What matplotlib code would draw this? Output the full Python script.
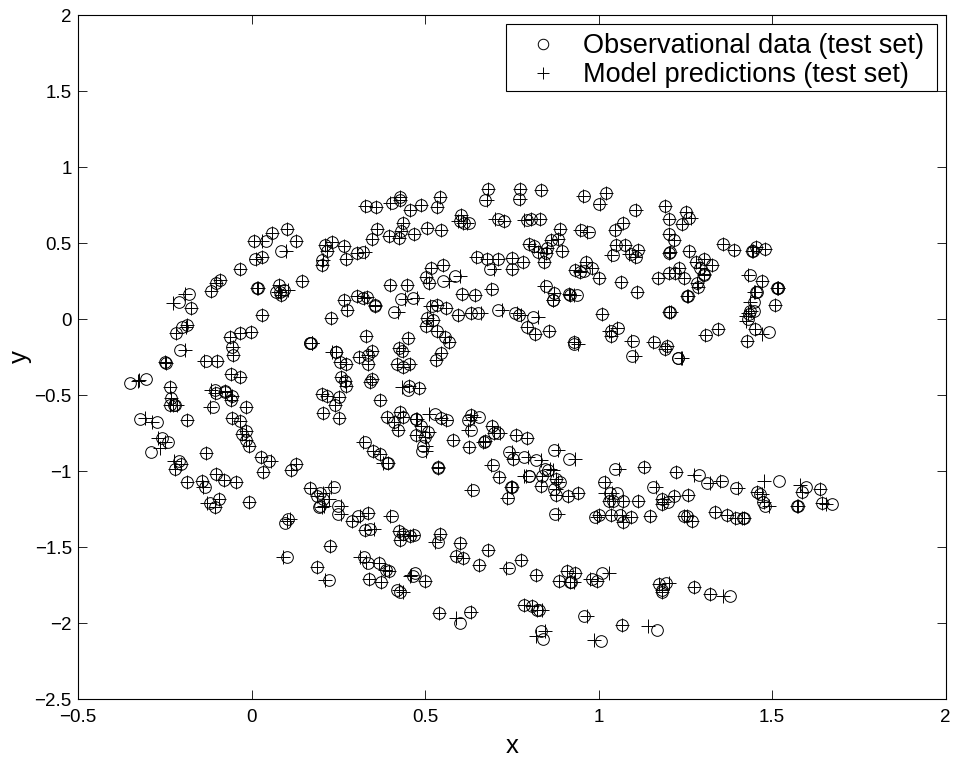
import matplotlib
matplotlib.use("Agg")
import matplotlib.pyplot as plt
from matplotlib.patches import Rectangle

# ---------- values ----------
obs_x = [0.330, 0.360, 0.103, 0.060, 0.007, 0.042, 0.128, 0.086, 0.031, 0.011, -0.034, -0.090, -0.101, -0.116, -0.179, -0.210, -0.173,
         -0.186, -0.200, -0.219, -0.206, -0.249, -0.247, -0.304, -0.349, -0.234, -0.232, -0.236, -0.224, -0.221, -0.322, -0.273, -0.187,
         0.017, 0.018, 0.079, 0.072, 0.083, 0.094, 0.086, 0.145, 0.031, 0.211, 0.233, 0.218, 0.266, 0.203, 0.203, 0.271, 0.304, 0.322, 0.348, 0.362,
         0.303, 0.320, 0.332, 0.355, 0.268, 0.275, 0.229, 0.330, 0.169, 0.170, 0.171, 0.243, 0.244, 0.256, 0.272, 0.311, 0.346, 0.336, 0.335,
         0.259, 0.269, 0.271, 0.346, 0.341, 0.203, 0.217, 0.251, 0.241, 0.205, 0.251,
         -0.001, -0.032, -0.063, -0.056, -0.053, -0.099, -0.131, -0.058, -0.033, -0.106, -0.102, -0.077, -0.075, -0.056, -0.058, -0.110, -0.015, -0.056, -0.032,
         0.682, 0.775, 0.834, 0.957, 0.674, 0.770, 0.542, 0.534, 0.428, 0.428, 0.489, 0.457, 0.404,
         0.438, 0.432, 0.396, 0.425, 0.469, 0.505, 0.547, 0.605, 0.602, 0.611, 0.627, 0.709, 0.729, 0.794, 0.805, 0.832,
         0.888, 0.884, 0.862, 0.951, 0.972, 0.801, 0.813, 0.827, 0.849, 0.853, 0.895, 0.842,
         0.650, 0.678, 0.711, 0.750, 0.783, 0.688, 0.752, 0.552, 0.517, 0.503, 0.511, 0.552, 0.587,
         0.398, 0.448, 0.431, 0.465, 0.357, 0.411, 0.607, 0.645, 0.694, 0.711, 0.594, 0.634, 0.652, 0.561, 0.534, 0.521,
         0.760, 0.772, 0.811, 0.793, 0.818, 0.856, 0.849, 0.871, 0.868, 0.870, 0.916, 0.917, 0.938, 0.964, 0.933, 0.948, 0.957,
         0.507, 0.522, 0.503, 0.534, 0.559, 0.568, 0.450, 0.424, 0.433, 0.546, 0.532, 0.420, 0.455, 0.438, 0.928, 0.930,
         1.022, 1.002, 1.104, 1.193, 1.202, 1.253, 1.260, 1.241, 1.070, 1.047, 1.202, 1.218, 1.051, 1.077, 1.113, 1.094, 1.108, 1.042, 1.204, 1.205, 1.261,
         1.358, 1.390, 1.442, 1.444, 1.454, 1.481, 1.281, 1.305, 1.326, 1.292, 1.303, 1.304, 1.233, 1.204, 1.220, 1.246, 1.171, 1.065, 1.002, 0.982, 1.111,
         1.284, 1.286, 1.256, 1.257, 1.204, 1.205, 1.010, 1.055, 1.036, 1.036, 1.100, 1.161, 1.198, 1.191, 1.096, 1.228, 1.229, 1.311, 1.343, 1.427, 1.452, 1.491,
         1.509, 1.516, 1.517, 1.515, 1.472, 1.436, 1.457, 1.454, 1.447, 1.449, 1.438, 1.433, 1.431,
         -0.257, -0.241, -0.289, -0.131, -0.209, -0.203, -0.220, -0.017, -0.028, -0.016, -0.008, 0.027, 0.051, 0.033, 0.128, 0.113,
         -0.185, -0.143, -0.134, -0.101, -0.080, -0.044, -0.093, -0.120, -0.106, -0.008, 0.168, 0.238, 0.188, 0.198, 0.207, 0.194, 0.198, 0.248, 0.248, 0.290, 0.308,
         0.104, 0.097, 0.225, 0.101, 0.189, 0.223,
         0.453, 0.451, 0.484, 0.369, 0.391, 0.429, 0.438, 0.412, 0.422, 0.473, 0.474, 0.489, 0.508, 0.473, 0.500, 0.494, 0.491, 0.530, 0.547, 0.563, 0.580, 0.628, 0.624, 0.634, 0.656,
         0.633, 0.671, 0.673, 0.694, 0.698, 0.710, 0.761, 0.794, 0.871, 0.916, 0.741, 0.753, 0.785, 0.819, 0.847, 0.855, 0.836, 0.799, 0.801, 0.697, 0.712, 0.749, 0.751, 0.738,
         0.877, 0.890, 0.835, 0.873, 0.877, 0.911, 0.940, 0.874, 0.637, 0.537, 0.538, 0.328, 0.350, 0.371, 0.390, 0.393,
         0.335, 0.406, 0.328, 0.342, 0.426, 0.438, 0.429, 0.458, 0.469, 0.542, 0.538, 0.602, 0.682, 0.589, 0.609, 0.656, 0.742, 0.777, 0.820,
         0.325, 0.337, 0.367, 0.388, 0.396, 0.338, 0.372, 0.472, 0.464, 0.499, 0.419, 0.429, 0.541, 0.602, 0.630, 0.784, 0.807, 0.823, 0.829, 0.835, 0.839, 0.957,
         0.910, 0.932, 0.885, 0.919, 0.921,
         1.048, 1.130, 1.223, 1.291, 1.312, 1.356, 1.395, 1.519, 1.599, 1.587, 1.637, 1.644, 1.673, 1.573, 1.574, 1.456, 1.464, 1.474, 1.479,
         1.015, 1.032, 1.053, 1.029, 1.041, 1.071, 1.113, 1.157, 1.183, 1.199, 1.183, 1.217, 1.257, 1.336, 1.371, 1.397, 1.416, 1.418,
         0.991, 1.002, 1.036, 1.063, 1.070, 1.094, 1.149, 1.245, 1.255, 1.269,
         1.010, 0.981, 0.996, 1.173, 1.194, 1.183, 1.184, 1.274, 1.320, 1.378, 1.068, 1.170, 1.008]

obs_y = [0.745, 0.734, 0.594, 0.568, 0.513, 0.511, 0.515, 0.447, 0.410, 0.392, 0.331, 0.258, 0.239, 0.182, 0.164, 0.109, 0.072,
         -0.037, -0.050, -0.092, -0.204, -0.285, -0.287, -0.397, -0.424, -0.448, -0.520, -0.566, -0.566, -0.566, -0.658, -0.676, -0.665,
         0.204, 0.206, 0.223, 0.180, 0.180, 0.190, 0.158, 0.252, 0.024, 0.489, 0.506, 0.447, 0.480, 0.388, 0.355, 0.392, 0.436, 0.438, 0.528, 0.590,
         0.153, 0.136, 0.145, 0.092, 0.123, 0.057, 0.009, -0.110, -0.156, -0.157, -0.155, -0.215, -0.216, -0.283, -0.298, -0.252, -0.209, -0.237, -0.296,
         -0.380, -0.406, -0.439, -0.393, -0.415, -0.491, -0.505, -0.513, -0.568, -0.619, -0.654,
         -0.088, -0.090, -0.116, -0.182, -0.237, -0.277, -0.277, -0.360, -0.384, -0.467, -0.489, -0.476, -0.478, -0.505, -0.535, -0.579, -0.577, -0.654, -0.669,
         0.855, 0.853, 0.848, 0.807, 0.780, 0.787, 0.805, 0.734, 0.800, 0.783, 0.752, 0.719, 0.761,
         0.634, 0.579, 0.548, 0.530, 0.561, 0.596, 0.587, 0.686, 0.647, 0.629, 0.629, 0.660, 0.647, 0.651, 0.658, 0.660,
         0.590, 0.526, 0.520, 0.585, 0.570, 0.493, 0.480, 0.443, 0.432, 0.467, 0.447, 0.373,
         0.405, 0.394, 0.397, 0.403, 0.377, 0.327, 0.331, 0.357, 0.335, 0.274, 0.234, 0.248, 0.285,
         0.226, 0.226, 0.131, 0.136, 0.087, 0.046, 0.166, 0.160, 0.199, 0.059, 0.024, 0.039, 0.039, 0.074, 0.094, 0.083,
         0.037, 0.028, 0.011, -0.055, -0.099, -0.081, 0.215, 0.171, 0.125, 0.123, 0.164, 0.155, 0.155, 0.373, 0.320, 0.309, 0.316,
         0.009, -0.009, -0.044, -0.081, -0.116, -0.154, -0.127, -0.193, -0.211, -0.226, -0.270, -0.298, -0.298, -0.314, -0.154, -0.167,
         0.831, 0.754, 0.715, 0.741, 0.658, 0.704, 0.666, 0.623, 0.634, 0.583, 0.559, 0.517, 0.489, 0.489, 0.456, 0.430, 0.405, 0.421, 0.436, 0.438, 0.447,
         0.495, 0.456, 0.447, 0.449, 0.473, 0.458, 0.377, 0.394, 0.357, 0.335, 0.294, 0.292, 0.333, 0.305, 0.302, 0.270, 0.267, 0.245, 0.267, 0.333, 0.175,
         0.239, 0.208, 0.153, 0.151, 0.048, 0.046, 0.035, -0.057, -0.079, -0.112, -0.143, -0.154, -0.178, -0.198, -0.241, -0.255, -0.257, -0.108, -0.064, -0.147, -0.064, -0.084,
         0.090, 0.204, 0.206, 0.202, 0.252, 0.289, 0.180, 0.178, 0.114, 0.052, 0.055, 0.033, 0.000,
         -0.781, -0.807, -0.873, -0.882, -0.932, -0.952, -0.987, -0.735, -0.757, -0.796, -0.833, -0.906, -0.934, -1.007, -0.954, -0.991,
         -1.070, -1.064, -1.103, -1.020, -1.062, -1.072, -1.186, -1.211, -1.239, -1.202, -1.110, -1.105, -1.162, -1.147, -1.184, -1.235, -1.228, -1.230, -1.281, -1.327, -1.296,
         -1.316, -1.342, -1.496, -1.568, -1.630, -1.715,
         -0.440, -0.467, -0.451, -0.530, -0.642, -0.614, -0.642, -0.677, -0.728, -0.658, -0.660, -0.706, -0.743, -0.763, -0.778, -0.837, -0.868, -0.625, -0.653, -0.662, -0.794, -0.842, -0.662, -0.631, -0.642,
         -0.732, -0.807, -0.805, -0.704, -0.747, -0.747, -0.763, -0.783, -0.859, -0.919, -0.877, -0.919, -0.908, -0.930, -0.989, -0.993, -1.030, -1.035, -1.033, -0.960, -1.037, -1.105, -1.107, -1.177,
         -1.052, -1.070, -1.100, -1.116, -1.158, -1.164, -1.144, -1.280, -1.125, -0.976, -0.978, -0.809, -0.866, -0.888, -0.945, -0.949,
         -1.276, -1.296, -1.386, -1.379, -1.392, -1.416, -1.451, -1.429, -1.419, -1.412, -1.469, -1.476, -1.517, -1.561, -1.574, -1.618, -1.636, -1.587, -1.684,
         -1.563, -1.607, -1.605, -1.651, -1.658, -1.710, -1.732, -1.669, -1.693, -1.721, -1.785, -1.794, -1.934, -2.002, -1.925, -1.881, -1.888, -1.914, -1.917, -2.050, -2.107, -1.956,
         -1.660, -1.673, -1.721, -1.732, -1.730,
         -0.987, -0.971, -1.007, -1.026, -1.081, -1.064, -1.114, -1.064, -1.107, -1.136, -1.121, -1.213, -1.219, -1.228, -1.230, -1.138, -1.153, -1.204, -1.228,
         -1.074, -1.142, -1.142, -1.197, -1.197, -1.195, -1.195, -1.105, -1.186, -1.206, -1.219, -1.164, -1.160, -1.270, -1.290, -1.309, -1.309, -1.311,
         -1.305, -1.287, -1.287, -1.290, -1.338, -1.303, -1.298, -1.294, -1.296, -1.329,
         -1.669, -1.713, -1.726, -1.746, -1.739, -1.783, -1.794, -1.763, -1.809, -1.822, -2.015, -2.048, -2.118]

pred_x = [0.328, 0.358, 0.103, 0.060, 0.007, 0.030, 0.128, 0.100, 0.031, 0.013, -0.034, -0.090, -0.101, -0.116, -0.193, -0.226, -0.173,
          -0.186, -0.190, -0.219, -0.192, -0.249, -0.247, -0.325, -0.328, -0.234, -0.232, -0.236, -0.226, -0.215, -0.306, -0.288, -0.187,
          0.017, 0.018, 0.079, 0.076, 0.083, 0.104, 0.086, 0.145, 0.031, 0.213, 0.233, 0.218, 0.266, 0.205, 0.203, 0.271, 0.304, 0.326, 0.348, 0.362,
          0.303, 0.324, 0.332, 0.357, 0.268, 0.275, 0.229, 0.330, 0.173, 0.174, 0.175, 0.233, 0.244, 0.256, 0.272, 0.311, 0.346, 0.336, 0.335,
          0.259, 0.269, 0.271, 0.346, 0.341, 0.203, 0.217, 0.251, 0.241, 0.205, 0.251,
          -0.001, -0.032, -0.063, -0.052, -0.053, -0.099, -0.137, -0.058, -0.033, -0.116, -0.104, -0.077, -0.075, -0.056, -0.058, -0.120, -0.015, -0.056, -0.032,
          0.682, 0.775, 0.834, 0.955, 0.678, 0.774, 0.542, 0.534, 0.428, 0.428, 0.489, 0.457, 0.400,
          0.438, 0.432, 0.396, 0.425, 0.469, 0.505, 0.547, 0.605, 0.594, 0.609, 0.620, 0.703, 0.729, 0.786, 0.805, 0.832,
          0.888, 0.884, 0.862, 0.947, 0.968, 0.801, 0.813, 0.827, 0.849, 0.853, 0.895, 0.842,
          0.648, 0.678, 0.711, 0.750, 0.783, 0.700, 0.752, 0.552, 0.517, 0.503, 0.511, 0.568, 0.600,
          0.398, 0.448, 0.442, 0.478, 0.357, 0.422, 0.607, 0.645, 0.690, 0.722, 0.594, 0.634, 0.660, 0.561, 0.534, 0.515,
          0.764, 0.778, 0.825, 0.793, 0.818, 0.858, 0.842, 0.871, 0.868, 0.870, 0.916, 0.917, 0.930, 0.964, 0.933, 0.948, 0.948,
          0.507, 0.522, 0.503, 0.534, 0.559, 0.568, 0.450, 0.424, 0.437, 0.546, 0.532, 0.420, 0.458, 0.438, 0.928, 0.940,
          1.022, 1.004, 1.108, 1.193, 1.204, 1.253, 1.268, 1.241, 1.070, 1.047, 1.202, 1.218, 1.051, 1.077, 1.113, 1.088, 1.106, 1.036, 1.202, 1.205, 1.261,
          1.358, 1.390, 1.442, 1.444, 1.454, 1.481, 1.281, 1.305, 1.326, 1.292, 1.303, 1.304, 1.233, 1.204, 1.220, 1.246, 1.171, 1.065, 1.002, 0.982, 1.111,
          1.284, 1.286, 1.256, 1.257, 1.204, 1.208, 1.010, 1.053, 1.030, 1.036, 1.094, 1.157, 1.196, 1.191, 1.106, 1.238, 1.240, 1.307, 1.343, 1.427, 1.452, 1.472,
          1.509, 1.516, 1.517, 1.515, 1.472, 1.432, 1.447, 1.452, 1.437, 1.440, 1.430, 1.425, 1.424,
          -0.270, -0.250, -0.264, -0.131, -0.222, -0.203, -0.220, -0.017, -0.028, -0.016, -0.008, 0.027, 0.055, 0.033, 0.128, 0.113,
          -0.185, -0.143, -0.140, -0.101, -0.080, -0.044, -0.093, -0.128, -0.106, -0.006, 0.168, 0.228, 0.188, 0.205, 0.222, 0.204, 0.208, 0.258, 0.258, 0.290, 0.312,
          0.110, 0.102, 0.225, 0.090, 0.189, 0.212,
          0.453, 0.435, 0.484, 0.369, 0.391, 0.429, 0.438, 0.412, 0.422, 0.477, 0.474, 0.489, 0.512, 0.473, 0.500, 0.504, 0.503, 0.512, 0.547, 0.560, 0.580, 0.628, 0.630, 0.632, 0.640,
          0.625, 0.667, 0.673, 0.694, 0.698, 0.716, 0.761, 0.794, 0.882, 0.932, 0.750, 0.753, 0.796, 0.834, 0.860, 0.868, 0.836, 0.785, 0.790, 0.690, 0.712, 0.749, 0.751, 0.735,
          0.877, 0.883, 0.835, 0.877, 0.877, 0.911, 0.940, 0.884, 0.634, 0.537, 0.538, 0.322, 0.350, 0.371, 0.380, 0.393,
          0.335, 0.400, 0.328, 0.352, 0.426, 0.438, 0.429, 0.458, 0.465, 0.542, 0.528, 0.602, 0.682, 0.589, 0.609, 0.656, 0.732, 0.777, 0.820,
          0.312, 0.329, 0.367, 0.384, 0.396, 0.338, 0.372, 0.460, 0.458, 0.499, 0.424, 0.436, 0.541, 0.588, 0.634, 0.784, 0.807, 0.823, 0.836, 0.845, 0.820, 0.968,
          0.910, 0.932, 0.885, 0.919, 0.928,
          1.060, 1.130, 1.223, 1.274, 1.322, 1.350, 1.402, 1.476, 1.582, 1.587, 1.637, 1.644, 1.656, 1.573, 1.574, 1.456, 1.472, 1.478, 1.490,
          1.020, 1.020, 1.040, 1.029, 1.041, 1.071, 1.113, 1.167, 1.183, 1.190, 1.183, 1.217, 1.257, 1.336, 1.371, 1.392, 1.414, 1.418,
          0.997, 1.002, 1.036, 1.069, 1.070, 1.094, 1.149, 1.245, 1.255, 1.269,
          1.029, 0.975, 0.996, 1.173, 1.204, 1.183, 1.184, 1.274, 1.320, 1.360, 1.068, 1.142, 0.988]

pred_y = [0.745, 0.734, 0.594, 0.568, 0.513, 0.511, 0.515, 0.447, 0.410, 0.392, 0.331, 0.258, 0.239, 0.182, 0.164, 0.102, 0.072,
          -0.037, -0.050, -0.092, -0.204, -0.285, -0.287, -0.402, -0.405, -0.448, -0.520, -0.566, -0.566, -0.566, -0.652, -0.676, -0.665,
          0.204, 0.206, 0.223, 0.180, 0.180, 0.190, 0.158, 0.252, 0.024, 0.489, 0.506, 0.447, 0.480, 0.388, 0.355, 0.392, 0.436, 0.438, 0.528, 0.590,
          0.153, 0.136, 0.145, 0.092, 0.123, 0.057, 0.009, -0.110, -0.156, -0.157, -0.155, -0.215, -0.216, -0.283, -0.298, -0.252, -0.209, -0.237, -0.296,
          -0.380, -0.406, -0.439, -0.393, -0.415, -0.491, -0.505, -0.513, -0.568, -0.619, -0.654,
          -0.088, -0.090, -0.116, -0.182, -0.237, -0.277, -0.277, -0.360, -0.384, -0.467, -0.489, -0.476, -0.478, -0.505, -0.535, -0.579, -0.577, -0.654, -0.669,
          0.855, 0.853, 0.848, 0.807, 0.780, 0.787, 0.805, 0.734, 0.800, 0.783, 0.752, 0.719, 0.761,
          0.634, 0.579, 0.548, 0.530, 0.561, 0.596, 0.587, 0.686, 0.647, 0.629, 0.629, 0.660, 0.647, 0.651, 0.658, 0.660,
          0.590, 0.526, 0.520, 0.585, 0.570, 0.493, 0.480, 0.443, 0.432, 0.467, 0.447, 0.373,
          0.405, 0.394, 0.397, 0.403, 0.377, 0.327, 0.331, 0.357, 0.335, 0.274, 0.234, 0.248, 0.285,
          0.226, 0.226, 0.131, 0.136, 0.087, 0.046, 0.166, 0.160, 0.199, 0.059, 0.024, 0.039, 0.039, 0.074, 0.094, 0.083,
          0.037, 0.028, 0.011, -0.055, -0.099, -0.081, 0.215, 0.171, 0.125, 0.123, 0.164, 0.155, 0.155, 0.373, 0.320, 0.309, 0.316,
          0.009, -0.009, -0.044, -0.081, -0.116, -0.154, -0.127, -0.193, -0.211, -0.226, -0.270, -0.298, -0.298, -0.314, -0.154, -0.167,
          0.831, 0.754, 0.715, 0.741, 0.658, 0.704, 0.666, 0.623, 0.634, 0.583, 0.559, 0.517, 0.489, 0.489, 0.456, 0.430, 0.405, 0.421, 0.436, 0.438, 0.447,
          0.495, 0.456, 0.447, 0.449, 0.473, 0.458, 0.377, 0.394, 0.357, 0.335, 0.294, 0.292, 0.333, 0.305, 0.302, 0.270, 0.267, 0.245, 0.267, 0.333, 0.175,
          0.239, 0.208, 0.153, 0.151, 0.048, 0.046, 0.035, -0.057, -0.079, -0.112, -0.143, -0.154, -0.178, -0.198, -0.241, -0.255, -0.257, -0.108, -0.064, -0.147, -0.064, -0.100,
          0.090, 0.204, 0.206, 0.202, 0.252, 0.289, 0.180, 0.178, 0.114, 0.052, 0.040, 0.020, -0.010,
          -0.781, -0.807, -0.850, -0.882, -0.932, -0.952, -0.987, -0.735, -0.757, -0.796, -0.833, -0.906, -0.934, -1.007, -0.954, -0.991,
          -1.070, -1.064, -1.103, -1.020, -1.062, -1.072, -1.186, -1.211, -1.239, -1.202, -1.110, -1.105, -1.162, -1.147, -1.184, -1.235, -1.228, -1.230, -1.281, -1.327, -1.296,
          -1.316, -1.330, -1.496, -1.568, -1.630, -1.715,
          -0.440, -0.450, -0.451, -0.530, -0.642, -0.614, -0.642, -0.677, -0.728, -0.658, -0.660, -0.706, -0.743, -0.763, -0.778, -0.837, -0.868, -0.625, -0.653, -0.662, -0.794, -0.842, -0.662, -0.631, -0.642,
          -0.732, -0.807, -0.805, -0.704, -0.747, -0.747, -0.763, -0.783, -0.859, -0.919, -0.877, -0.919, -0.908, -0.930, -0.989, -0.993, -1.030, -1.035, -1.033, -0.960, -1.037, -1.105, -1.107, -1.177,
          -1.052, -1.070, -1.100, -1.116, -1.158, -1.164, -1.144, -1.280, -1.125, -0.976, -0.978, -0.809, -0.866, -0.888, -0.945, -0.949,
          -1.276, -1.296, -1.386, -1.379, -1.392, -1.416, -1.451, -1.429, -1.419, -1.412, -1.469, -1.476, -1.517, -1.561, -1.574, -1.618, -1.636, -1.587, -1.684,
          -1.563, -1.600, -1.605, -1.651, -1.658, -1.710, -1.732, -1.685, -1.693, -1.721, -1.785, -1.794, -1.934, -1.968, -1.925, -1.881, -1.888, -1.914, -1.917, -2.050, -2.085, -1.956,
          -1.660, -1.673, -1.721, -1.732, -1.730,
          -0.987, -0.971, -1.007, -1.026, -1.081, -1.064, -1.114, -1.064, -1.090, -1.136, -1.121, -1.213, -1.219, -1.228, -1.230, -1.138, -1.153, -1.204, -1.228,
          -1.074, -1.142, -1.142, -1.197, -1.197, -1.195, -1.195, -1.105, -1.186, -1.206, -1.219, -1.164, -1.160, -1.270, -1.290, -1.309, -1.309, -1.311,
          -1.305, -1.287, -1.287, -1.290, -1.338, -1.303, -1.298, -1.294, -1.296, -1.329,
          -1.669, -1.713, -1.726, -1.746, -1.739, -1.783, -1.794, -1.763, -1.809, -1.820, -2.015, -2.020, -2.110]

x_ticks = [-0.5, 0, 0.5, 1, 1.5, 2]
x_labels = ["\u22120.5", "0", "0.5", "1", "1.5", "2"]
y_ticks = [-2.5, -2, -1.5, -1, -0.5, 0, 0.5, 1, 1.5, 2]
y_labels = ["\u22122.5", "\u22122", "\u22121.5", "\u22121", "\u22120.5", "0", "0.5", "1", "1.5", "2"]

# ---------- figure ----------
plt.rcParams["font.family"] = ["Liberation Sans", "DejaVu Sans"]

W, H = 958, 760
fig = plt.figure(figsize=(W / 100, H / 100), dpi=100)
ax = fig.add_axes([78 / W, 1 - 699 / H, (945.5 - 78) / W, (699 - 15) / H])

ax.plot(obs_x, obs_y, "o", mfc="none", mec="k", mew=0.7, ms=8.4, ls="none",
        label="Observational data (test set)")
ax.plot(pred_x, pred_y, "+", color="k", mew=0.7, ms=10, ls="none",
        label="Model predictions (test set)")

ax.set_xlim(-0.5, 2)
ax.set_ylim(-2.5, 2)
ax.set_xticks(x_ticks, x_labels)
ax.set_yticks(y_ticks, y_labels)
ax.tick_params(direction="in", top=True, right=True, length=6.5, width=0.6, labelsize=13.5)
ax.tick_params(axis="x", pad=7)
ax.tick_params(axis="y", pad=4.5)
for side in ax.spines.values():
    side.set_linewidth(0.8)

ax.set_xlabel("x", fontsize=18.5, labelpad=6)
ax.set_ylabel("y", fontsize=18.5, labelpad=2)

# legend frame drawn apart so its padding can differ left/right and top/bottom
ax.add_patch(Rectangle((506 / W, 1 - 91 / H), (937 - 506) / W, (91 - 24) / H, transform=fig.transFigure,
                       fc="w", ec="k", lw=0.8, zorder=4.9))
leg = ax.legend(loc="upper left", bbox_to_anchor=(523 / W, 1 - 33 / H), bbox_transform=fig.transFigure,
                fontsize=19.5, numpoints=1, frameon=False, borderpad=0, borderaxespad=0,
                labelspacing=0.12, handlelength=1.48, handletextpad=0.74, markerscale=0.9)

fig.savefig("out.png", dpi=100)
